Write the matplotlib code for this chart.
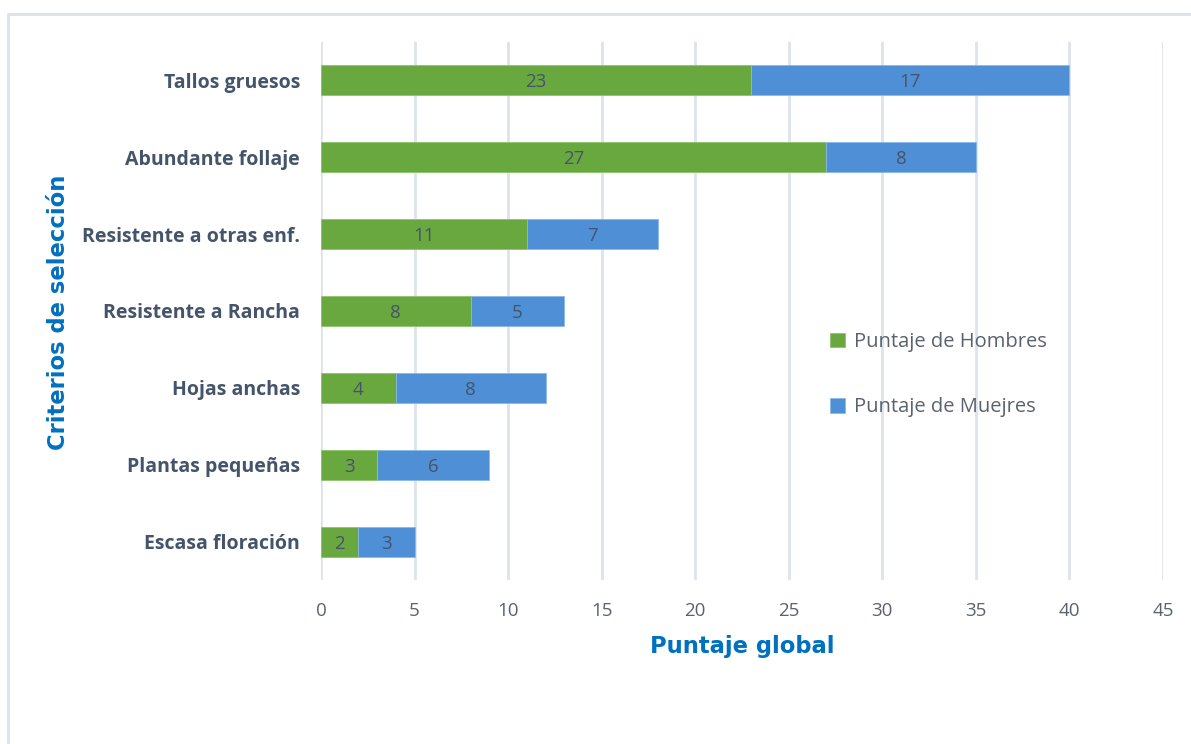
import matplotlib.pyplot as plt
import matplotlib.patches as mpatches
import numpy as np

# Criteria, top to bottom as in the chart
criterios = ['Tallos gruesos', 'Abundante follaje', 'Resistente a otras enf.',
             'Resistente a Rancha', 'Hojas anchas', 'Plantas pequeñas',
             'Escasa floración']
hombres = [23, 27, 11, 8, 4, 3, 2]
mujeres = [17, 8, 7, 5, 8, 6, 3]

verde = '#69a83f'
azul = '#4e8fd6'
pizarra = '#44546a'
titulo_azul = '#0070c0'

plt.rcParams['font.family'] = ['Open Sans', 'DejaVu Sans']

fig = plt.figure(figsize=(11.91, 7.44), dpi=100)
# light frame around the chart area, like the Excel chart border
fig.patches.append(mpatches.Rectangle((8 / 1191, -0.05), 1.2, 1 - 14 / 744 + 0.05,
                                      transform=fig.transFigure, fill=False,
                                      edgecolor='#dde1ea', linewidth=2))

ax = fig.add_axes([321 / 1191, 1 - 580 / 744, (1163 - 321) / 1191, (580 - 42) / 744])

y = np.arange(len(criterios))
b1 = ax.barh(y, hombres, height=0.39, color=verde, label='Puntaje de Hombres',
             edgecolor='#8cc46a', linewidth=0.6, zorder=3)
b2 = ax.barh(y, mujeres, left=hombres, height=0.39, color=azul,
             label='Puntaje de Muejres', edgecolor='#8ab8e8', linewidth=0.6, zorder=3)

for bars, vals in ((b1, hombres), (b2, mujeres)):
    for r, v in zip(bars, vals):
        ax.text(r.get_x() + r.get_width() / 2, r.get_y() + r.get_height() / 2, str(v),
                ha='center', va='center_baseline', color=pizarra, fontsize=13.5, zorder=4)

ax.set_ylim(len(criterios) - 0.5, -0.5)
ax.set_xlim(0, 45)
ax.set_xticks(np.arange(0, 46, 5))
ax.set_yticks(y)
ax.set_yticklabels(criterios, fontsize=14, fontweight='bold', color=pizarra)
ax.tick_params(axis='x', length=0, labelsize=13.5, pad=16, labelcolor='#5a6270')
ax.tick_params(axis='y', length=0, pad=15)
ax.grid(axis='x', color='#dde2ec', linewidth=2, zorder=0)
for s in ax.spines.values():
    s.set_visible(False)

ax.set_xlabel('Puntaje global', fontsize=16.3, fontweight='bold', color=titulo_azul,
              family=['DejaVu Sans'], labelpad=11)
fig.text(59 / 1191, 1 - 312 / 744, 'Criterios de selección', rotation=90,
         fontsize=16.3, fontweight='bold', color=titulo_azul,
         family=['DejaVu Sans'], ha='center', va='center')

leg = ax.legend(loc='upper left', bbox_to_anchor=(812 / 1191, 1 - 314 / 744),
                bbox_transform=fig.transFigure, frameon=False, fontsize=14.5,
                handlelength=0.75, handleheight=0.75, handletextpad=0.45,
                labelspacing=2.25)
for t in leg.get_texts():
    t.set_color('#5a6270')

fig.savefig('out.png', dpi=100)
